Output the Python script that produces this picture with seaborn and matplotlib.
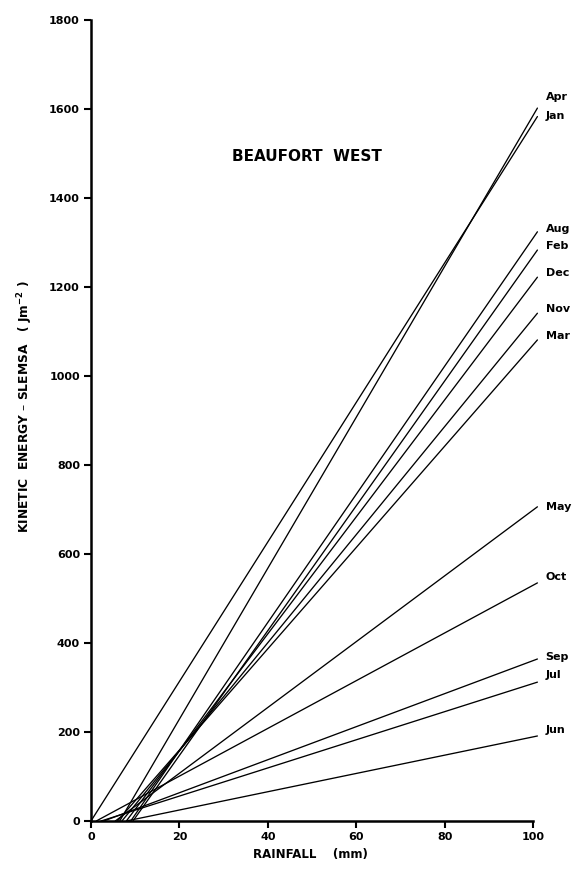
import matplotlib
matplotlib.use("Agg")
import matplotlib.pyplot as plt
import numpy as np
import pandas as pd
import seaborn as sns

# Monthly kinetic energy (SLEMSA) vs rainfall relations, Beaufort West
months = ["Jan", "Feb", "Mar", "Apr", "May", "Jun",
          "Jul", "Aug", "Sep", "Oct", "Nov", "Dec"]
# rainfall (mm) at which each relation reaches zero energy
onset_rain = [0.0, 9.5, 6.0, 6.5, 5.5, 8.0, 2.3, 9.0, 2.9, 1.2, 7.0, 8.0]
# kinetic energy (J m^-2) at the upper end of each line
end_energy = [1583, 1283, 1081, 1602, 706, 191, 312, 1324, 364, 535, 1141, 1222]
RAIN_END = 101.0

x_ticks = [0, 20, 40, 60, 80, 100]
y_ticks = [0, 200, 400, 600, 800, 1000, 1200, 1400, 1600, 1800]

rows = []
for m, a, e in zip(months, onset_rain, end_energy):
    rows.append({"month": m, "rain": a, "energy": 0.0})
    rows.append({"month": m, "rain": RAIN_END, "energy": e})
df = pd.DataFrame(rows)

sns.set_style("ticks")
plt.rcParams["font.family"] = ["DejaVu Sans"]
plt.rcParams["font.weight"] = "bold"
plt.rcParams["mathtext.fontset"] = "dejavusans"
plt.rcParams["mathtext.default"] = "bf"
for key in ("text.color", "axes.labelcolor", "xtick.color", "ytick.color",
            "axes.edgecolor"):
    plt.rcParams[key] = "black"

fig = plt.figure(figsize=(5.84, 8.76), dpi=100)
ax = fig.add_axes([0.1558, 0.0628, 0.772, 0.9144])

sns.lineplot(data=df, x="rain", y="energy", hue="month", units="month",
             estimator=None, palette={m: "black" for m in months},
             linewidth=0.95, legend=False, ax=ax)

ax.set_xlim(0, 102)
ax.set_ylim(0, 1800)
ax.set_xticks(x_ticks)
ax.set_yticks(y_ticks)
ax.tick_params(axis="both", direction="out", length=5, width=1.5,
               labelsize=8, pad=3, color="black", labelcolor="black")
for lab in ax.get_xticklabels() + ax.get_yticklabels():
    lab.set_fontweight("bold")

sns.despine(ax=ax)
ax.spines["bottom"].set_bounds(0, 100)
for s in ("left", "bottom"):
    ax.spines[s].set_linewidth(1.8)
    ax.spines[s].set_color("black")

ax.set_xlabel("RAINFALL    (mm)", fontsize=8.5, fontweight="bold")
ax.xaxis.set_label_coords(0.486, -0.034)
ax.set_ylabel(r"KINETIC  ENERGY – SLEMSA   ( Jm$^{-2}$ )",
              fontsize=8.8, fontweight="bold")
ax.yaxis.set_label_coords(-0.124, 0.518)

ax.text(0.48, 0.83, "BEAUFORT  WEST", transform=ax.transAxes,
        ha="center", va="center", fontsize=11, fontweight="bold")

# vertical nudges (pixels) keeping crowded month labels apart
nudge = {"Apr": 11, "Jan": 1, "Aug": 3, "Feb": 4, "Dec": 4, "Nov": 4,
         "Mar": 4, "May": 0, "Oct": 6, "Sep": 2, "Jul": 7, "Jun": 6}
for m, e in zip(months, end_energy):
    ax.annotate(m, xy=(RAIN_END, e), xytext=(6, nudge[m] * 0.72),
                textcoords="offset points", ha="left", va="center",
                fontsize=8, fontweight="bold", annotation_clip=False)

fig.savefig("out.png", dpi=100, facecolor="white")
